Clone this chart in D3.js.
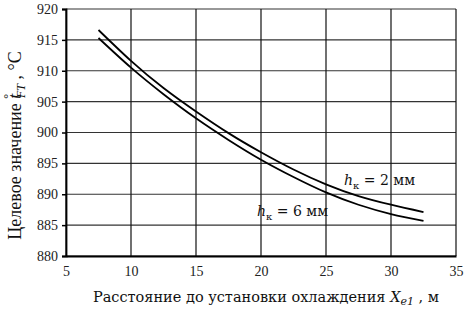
<!DOCTYPE html>
<html>
<head>
<meta charset="utf-8">
<script src="https://cdn.jsdelivr.net/npm/d3@7"></script>
<style>
  body { margin: 0; background: #fff; }
  svg { display: block; }
</style>
</head>
<body>
<svg id="chart" width="466" height="313"></svg>
<script>
// target temperature vs distance to cooling unit

const distance = [7.5, 10, 12.5, 15, 17.5, 20, 22.5, 25, 27.5, 30, 32.5];
const hk2 = [916.6, 911.6, 907.2, 903.4, 899.9, 896.8, 894.0, 891.6, 889.7, 888.3, 887.1];
const hk6 = [915.3, 910.5, 906.2, 902.3, 898.8, 895.6, 892.8, 890.3, 888.3, 886.8, 885.7];
const xTicks = [5, 10, 15, 20, 25, 30, 35];
const yTicks = [880, 885, 890, 895, 900, 905, 910, 915, 920];

const width = 466, height = 313;
const margin = {left: 66, right: 10, top: 9, bottom: 57};

const svg = d3.select("#chart");

const x = d3.scaleLinear().domain([5, 35]).range([margin.left, width - margin.right]);
const y = d3.scaleLinear().domain([880, 920]).range([height - margin.bottom, margin.top]);

// grid
svg.append("g")
  .selectAll("line")
  .data(yTicks)
  .join("line")
    .attr("x1", x(5)).attr("x2", x(35))
    .attr("y1", d => y(d)).attr("y2", d => y(d))
    .attr("stroke", "#333")
    .attr("stroke-width", 1.2);

svg.append("g")
  .selectAll("line")
  .data(xTicks)
  .join("line")
    .attr("x1", d => x(d)).attr("x2", d => x(d))
    .attr("y1", y(880)).attr("y2", y(920))
    .attr("stroke", "#111")
    .attr("stroke-width", 1.2);

// axes
const yAxis = svg.append("g")
  .attr("transform", `translate(${x(5)},0)`)
  .call(d3.axisLeft(y).tickValues(yTicks).tickSize(4).tickPadding(4));
const xAxis = svg.append("g")
  .attr("transform", `translate(0,${y(880)})`)
  .call(d3.axisBottom(x).tickValues(xTicks).tickSize(0).tickPadding(10));

[yAxis, xAxis].forEach(a => {
  a.select(".domain").attr("stroke", "#000").attr("stroke-width", 1.8);
  a.selectAll(".tick line").attr("stroke", "#000").attr("stroke-width", 1.5);
  a.selectAll("text")
    .attr("fill", "#222")
    .style("font-family", "'Liberation Serif', serif")
    .style("font-size", "14px");
});

// curves
const line = d3.line()
  .x((d, i) => x(distance[i]))
  .y(d => y(d))
  .curve(d3.curveNatural);

[hk2, hk6].forEach(s => {
  svg.append("path")
    .attr("d", line(s))
    .attr("fill", "none")
    .attr("stroke", "#000")
    .attr("stroke-width", 1.8);
});

// labels on curves
const lab = (tx, ty, val) => {
  const t = svg.append("text")
    .attr("x", tx).attr("y", ty)
    .style("font-family", "'DejaVu Serif', serif")
    .style("font-size", "14px")
    .attr("fill", "#111");
  t.append("tspan").text("h").style("font-style", "italic");
  t.append("tspan").text("к").attr("dy", 4).style("font-size", "10px");
  t.append("tspan").text(` = ${val} мм`).attr("dy", -4);
};
lab(344, 185, 2);
lab(257, 216, 6);

// x title
const xt = svg.append("text")
  .attr("x", 266).attr("y", 302)
  .attr("text-anchor", "middle")
  .style("font-family", "'DejaVu Serif', serif")
  .style("font-size", "14.5px")
  .attr("fill", "#111");
xt.append("tspan").text("Расстояние до установки охлаждения ");
xt.append("tspan").text("X").style("font-style", "italic");
xt.append("tspan").text("e1").style("font-style", "italic").style("font-size", "11px").attr("dy", 3);
xt.append("tspan").text(" , м").attr("dy", -3);

// y title
const yt = svg.append("text")
  .attr("transform", `translate(21,${(y(880) + y(920)) / 2 + 13}) rotate(-90)`)
  .attr("text-anchor", "middle")
  .style("font-family", "'Liberation Serif', serif")
  .style("font-size", "18px")
  .attr("fill", "#111");
yt.append("tspan").text("Целевое значение ");
yt.append("tspan").text("t").style("font-style", "italic");
yt.append("tspan").text("°").attr("dx", -5).attr("dy", -9).style("font-size", "12px");
yt.append("tspan").text("FT").style("font-style", "italic").style("font-size", "12px").attr("dx", -4).attr("dy", 13);
yt.append("tspan").text(" , °С").attr("dy", -4);
</script>
</body>
</html>
